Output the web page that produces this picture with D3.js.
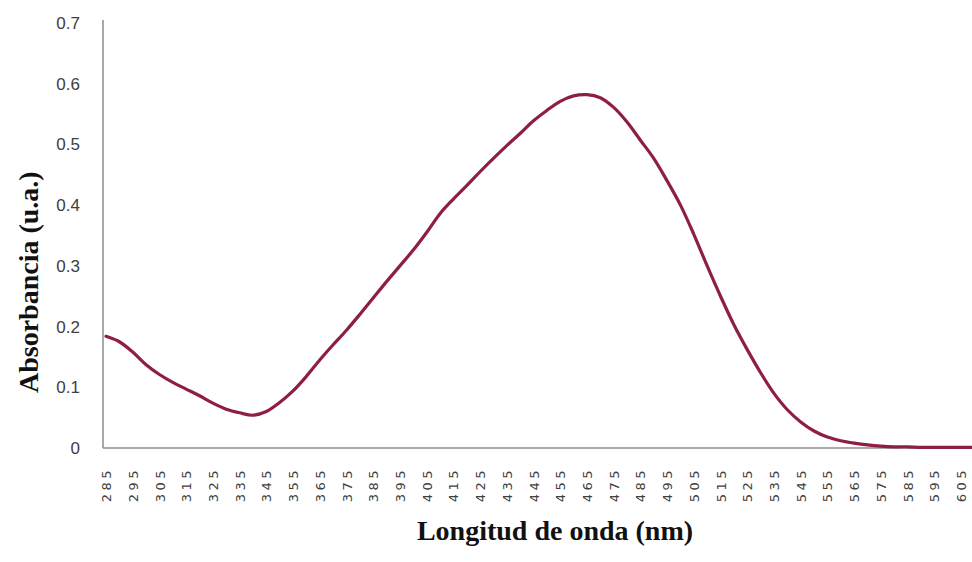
<!DOCTYPE html>
<html>
<head>
<meta charset="utf-8">
<script src="https://cdn.jsdelivr.net/npm/d3@7"></script>
<style>
  html, body { margin: 0; padding: 0; background: #ffffff; }
  svg { display: block; }
</style>
</head>
<body>
<svg id="chart" width="972" height="562"></svg>
<script>
// Wavelength (nm) samples and absorbance values
const wavelengths = [285,290,295,300,305,310,315,320,325,330,335,340,345,350,355,360,365,370,375,380,385,390,395,400,405,410,415,420,425,430,435,440,445,450,455,460,465,470,475,480,485,490,495,500,505,510,515,520,525,530,535,540,545,550,555,560,565,570,575,580,585,590,595,600,605,609];
const absorbance = [0.184,0.175,0.158,0.137,0.121,0.108,0.097,0.086,0.074,0.064,0.058,0.054,0.060,0.075,0.094,0.118,0.145,0.170,0.194,0.220,0.247,0.274,0.300,0.326,0.355,0.386,0.410,0.432,0.455,0.477,0.498,0.518,0.539,0.556,0.571,0.580,0.582,0.577,0.561,0.537,0.507,0.477,0.440,0.400,0.352,0.300,0.250,0.203,0.162,0.124,0.090,0.063,0.043,0.028,0.018,0.012,0.008,0.005,0.003,0.002,0.002,0.001,0.001,0.001,0.001,0.001];
const xTickLabels = d3.range(285, 606, 10);
const yTickLabels = [0, 0.1, 0.2, 0.3, 0.4, 0.5, 0.6, 0.7];
const xTitle = "Longitud de onda (nm)";
const yTitle = "Absorbancia (u.a.)";

const svg = d3.select("#chart");
const plot = { left: 103, right: 970, top: 23, bottom: 448 };

const x = d3.scaleLinear().domain([285, 605]).range([106, 961]);
const y = d3.scaleLinear().domain([0, 0.7]).range([plot.bottom, plot.top]);

// Axes lines
const axisColor = "#8c8c8c";
svg.append("line")
  .attr("x1", plot.left).attr("x2", plot.left)
  .attr("y1", 20).attr("y2", plot.bottom)
  .attr("stroke", axisColor).attr("stroke-width", 1.5);
svg.append("line")
  .attr("x1", plot.left).attr("x2", plot.right)
  .attr("y1", plot.bottom).attr("y2", plot.bottom)
  .attr("stroke", axisColor).attr("stroke-width", 1.5);

// Y axis labels
const yAxis = d3.axisLeft(y).tickValues(yTickLabels).tickSize(0).tickPadding(0)
  .tickFormat(d => d === 0 ? "0" : d3.format(".1f")(d));
const gy = svg.append("g").attr("transform", "translate(80,0)").call(yAxis);
gy.select(".domain").remove();
gy.selectAll("text")
  .attr("font-family", "'Liberation Sans', Arial, sans-serif")
  .attr("font-size", "17px")
  .attr("fill", "#404040");

// X axis labels (rotated)
const xAxis = d3.axisBottom(x).tickValues(xTickLabels).tickSize(0).tickFormat(d3.format("d"));
const gx = svg.append("g").attr("transform", `translate(0,${plot.bottom})`).call(xAxis);
gx.select(".domain").remove();
gx.selectAll("text")
  .attr("font-family", "'DejaVu Sans', sans-serif")
  .attr("font-size", "13px")
  .attr("letter-spacing", "3.5px")
  .attr("fill", "#404040")
  .attr("transform", "rotate(-90)")
  .attr("text-anchor", "end")
  .attr("x", -19)
  .attr("y", 0)
  .attr("dy", "0.35em");

// Curve
const data = wavelengths.map((w, i) => ({ w, a: absorbance[i] }));
const line = d3.line().x(d => x(d.w)).y(d => y(d.a)).curve(d3.curveCatmullRom.alpha(0.5));
svg.append("path")
  .datum(data)
  .attr("d", line)
  .attr("fill", "none")
  .attr("stroke", "#8e1f42")
  .attr("stroke-width", 3.2)
  .attr("stroke-linejoin", "round")
  .attr("stroke-linecap", "round");

// Titles
svg.append("text")
  .attr("x", 555).attr("y", 540)
  .attr("text-anchor", "middle")
  .attr("font-family", "'Liberation Serif', 'Times New Roman', serif")
  .attr("font-weight", "bold")
  .attr("font-size", "28px")
  .attr("fill", "#111")
  .text(xTitle);

svg.append("text")
  .attr("transform", "translate(28,393) rotate(-90)")
  .attr("text-anchor", "start")
  .attr("dy", "0.35em")
  .attr("font-family", "'Liberation Serif', 'Times New Roman', serif")
  .attr("font-weight", "bold")
  .attr("font-size", "28px")
  .attr("fill", "#111")
  .text(yTitle);
</script>
</body>
</html>
